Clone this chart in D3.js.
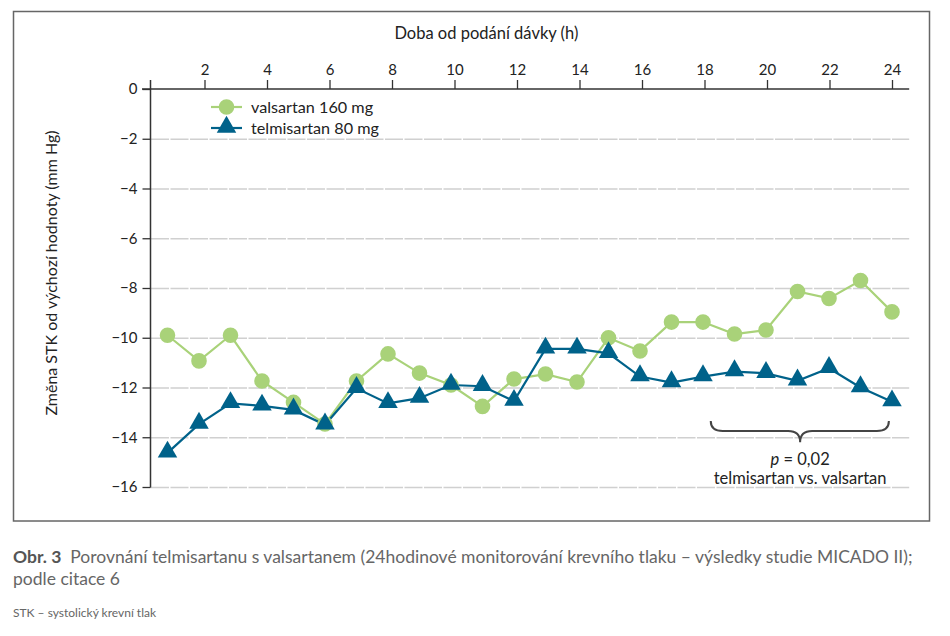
<!DOCTYPE html>
<html>
<head>
<meta charset="utf-8">
<script src="https://cdn.jsdelivr.net/npm/d3@7"></script>
<style>
  body { margin: 0; background: #fff; }
  text { font-family: Lato, "Noto Sans", sans-serif; }
</style>
</head>
<body>
<svg id="chart" width="950" height="636"></svg>
<script>
// data
const hours = d3.range(1, 25);
const valsartan = [-9.9, -10.93, -9.9, -11.74, -12.6, -13.47, -11.74, -10.65, -11.42, -11.9, -12.76, -11.66,
                   -11.46, -11.78, -10.0, -10.53, -9.37, -9.37, -9.85, -9.69, -8.14, -8.42, -7.7, -8.96];
const telmisartan = [-14.63, -13.47, -12.64, -12.74, -12.9, -13.5, -12.03, -12.64, -12.43, -11.9, -11.95, -12.55,
                     -10.45, -10.45, -10.63, -11.56, -11.8, -11.56, -11.36, -11.43, -11.73, -11.23, -12.0, -12.57];
const xTicks = d3.range(2, 25, 2);
const yTicks = d3.range(0, -17, -2);
const seriesNames = ['valsartan 160 mg', 'telmisartan 80 mg'];
const colors = ['#a9d279', '#00628a'];

const svg = d3.select('#chart');

// outer frame
svg.append('rect')
    .attr('x', 13.5).attr('y', 11.5)
    .attr('width', 916).attr('height', 509.5)
    .attr('fill', 'none').attr('stroke', '#666').attr('stroke-width', 1.5);

const x = d3.scaleLinear().domain([0, 24]).range([142, 892]);
// the markers sit slightly left of the tick marks in the original
const xPt = d3.scaleLinear().domain([1, 24]).range([167.5, 892]);
const y = d3.scaleLinear().domain([0, -16]).range([89, 487]);

// gridlines
svg.append('g').selectAll('line')
  .data(yTicks.filter(d => d !== 0))
  .join('line')
    .attr('x1', 151).attr('x2', x(24.55))
    .attr('y1', d => y(d) + 0.5).attr('y2', d => y(d) + 0.5)
    .attr('stroke', '#d0d0d0').attr('stroke-width', 1.3)
    .attr('stroke-dasharray', '18,1.5');

// top x axis
const xAxis = svg.append('g')
    .attr('transform', `translate(0,${y(0)})`)
    .call(d3.axisTop(x).tickValues(xTicks).tickSize(9).tickPadding(5).tickSizeOuter(0));
xAxis.select('.domain').remove();
xAxis.append('line')
    .attr('x1', x(0)).attr('x2', x(24.55))
    .attr('stroke', '#333').attr('stroke-width', 1.5);
xAxis.selectAll('.tick line').attr('stroke', '#333').attr('stroke-width', 1.3);
xAxis.selectAll('.tick text')
    .attr('fill', '#222').style('font-size', '15px');

svg.append('text')
    .attr('x', x(11.02)).attr('y', 39)
    .attr('text-anchor', 'middle')
    .attr('fill', '#222').style('font-size', '16.5px')
    .text('Doba od podání dávky (h)');

// left y axis
const yAxis = svg.append('g')
    .attr('transform', 'translate(150.5,0)')
    .call(d3.axisLeft(y).tickValues(yTicks).tickSize(8).tickPadding(5)
      .tickFormat(d => d === 0 ? '0' : '\u2212' + Math.abs(d)));
yAxis.select('.domain').remove();
yAxis.append('line')
    .attr('y1', y(0) - 9).attr('y2', y(-16) + 0.5)
    .attr('stroke', '#333').attr('stroke-width', 1.5);
yAxis.selectAll('.tick line').attr('stroke', '#333').attr('stroke-width', 1.3);
yAxis.selectAll('.tick text')
    .attr('fill', '#222').style('font-size', '15px');

svg.append('text')
    .attr('transform', `translate(57,${y(-7.4)}) rotate(-90)`)
    .attr('text-anchor', 'middle')
    .attr('fill', '#222').style('font-size', '16px')
    .text('Změna STK od výchozí hodnoty (mm Hg)');

// lines
const line = d3.line()
    .x((d, i) => xPt(hours[i]))
    .y(d => y(d));

[valsartan, telmisartan].forEach((vals, k) => {
  svg.append('path')
      .datum(vals)
      .attr('d', line)
      .attr('fill', 'none')
      .attr('stroke', colors[k])
      .attr('stroke-width', 2.2);
});

const circle = d3.symbol().type(d3.symbolCircle).size(Math.PI * 7.8 * 7.8);
const triangle = d3.symbol().type(d3.symbolTriangle).size(165);

svg.append('g').selectAll('path')
  .data(valsartan)
  .join('path')
    .attr('transform', (d, i) => `translate(${xPt(hours[i])},${y(d)})`)
    .attr('d', circle)
    .attr('fill', colors[0]);

svg.append('g').selectAll('path')
  .data(telmisartan)
  .join('path')
    .attr('transform', (d, i) => `translate(${xPt(hours[i])},${y(d) - 1})`)
    .attr('d', triangle)
    .attr('fill', colors[1]);

// legend
const legend = svg.append('g').attr('transform', 'translate(211,107)');
seriesNames.forEach((name, k) => {
  const g = legend.append('g').attr('transform', `translate(0,${k * 21})`);
  g.append('line')
      .attr('x1', 0).attr('x2', 31)
      .attr('stroke', colors[k]).attr('stroke-width', 2.2);
  g.append('path')
      .attr('transform', `translate(15.5,${k ? -1 : 0})`)
      .attr('d', k ? triangle : circle)
      .attr('fill', colors[k]);
  g.append('text')
      .attr('x', 40).attr('y', 5.5)
      .attr('fill', '#222').style('font-size', '16.2px')
      .text(name);
});

// brace annotation
const bx1 = x(18.2), bx2 = x(23.9), bxc = x(21.06);
const byEnd = y(-13.35), byH = y(-13.75), byTip = y(-14.2);
const r = 12;
const brace = d3.path();
brace.moveTo(bx1, byEnd);
brace.quadraticCurveTo(bx1, byH, bx1 + r, byH);
brace.lineTo(bxc - r, byH);
brace.quadraticCurveTo(bxc, byH, bxc, byTip);
brace.quadraticCurveTo(bxc, byH, bxc + r, byH);
brace.lineTo(bx2 - r, byH);
brace.quadraticCurveTo(bx2, byH, bx2, byEnd);
svg.append('path')
    .attr('d', brace.toString())
    .attr('fill', 'none').attr('stroke', '#444').attr('stroke-width', 2);

const note = svg.append('text')
    .attr('x', bxc).attr('y', 465)
    .attr('text-anchor', 'middle')
    .attr('fill', '#222').style('font-size', '16.5px');
note.append('tspan').attr('font-style', 'italic').text('p');
note.append('tspan').text(' = 0,02');
svg.append('text')
    .attr('x', bxc).attr('y', 484)
    .attr('text-anchor', 'middle')
    .attr('fill', '#222').style('font-size', '16.5px')
    .text('telmisartan vs. valsartan');

// caption
const cap = svg.append('text')
    .attr('x', 13).attr('y', 563)
    .attr('fill', '#666').style('font-size', '17.5px');
cap.append('tspan').attr('font-weight', 'bold').attr('fill', '#555').text('Obr. 3');
cap.append('tspan').text('\u00a0 Porovnání telmisartanu s valsartanem (24hodinové monitorování krevního tlaku – výsledky studie MICADO II);');
svg.append('text')
    .attr('x', 13).attr('y', 585)
    .attr('fill', '#666').style('font-size', '17.5px')
    .text('podle citace 6');
svg.append('text')
    .attr('x', 13).attr('y', 617)
    .attr('fill', '#666').style('font-size', '12px')
    .text('STK – systolický krevní tlak');
</script>
</body>
</html>
